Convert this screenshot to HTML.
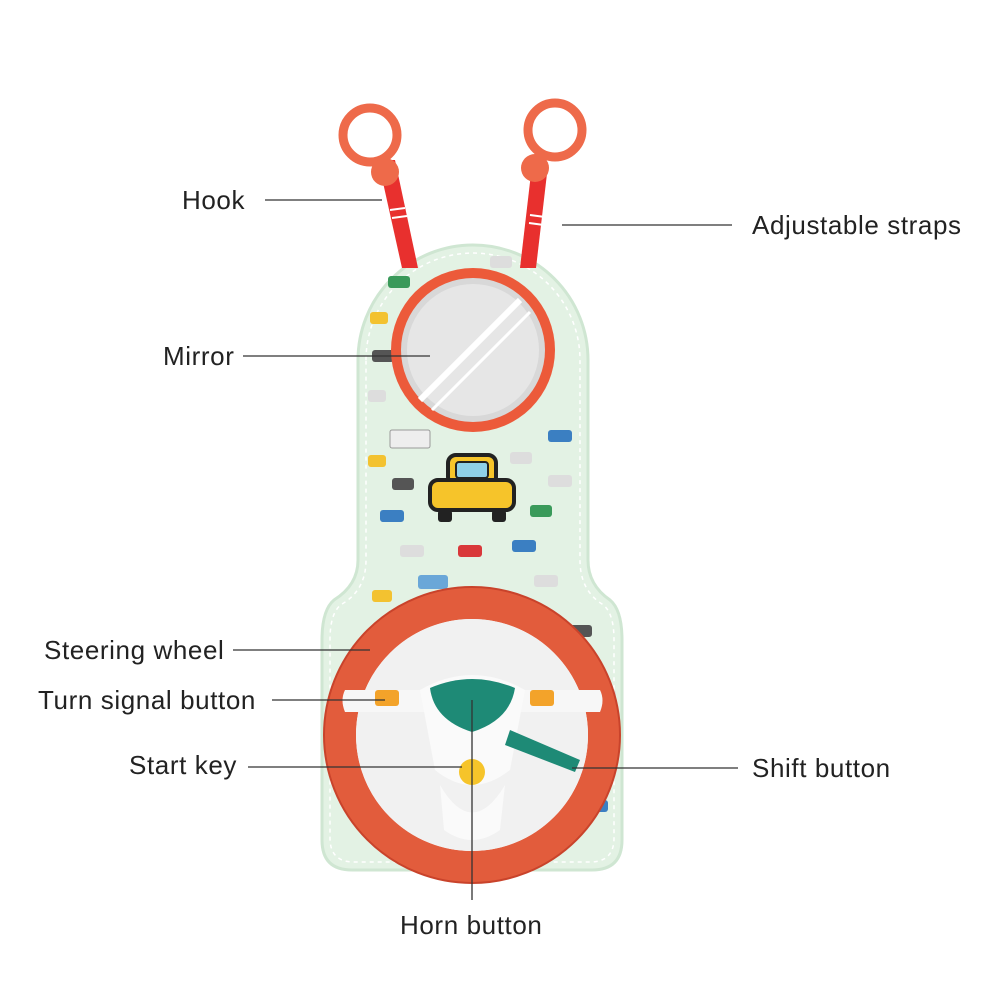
<!DOCTYPE html>
<html><head><meta charset="utf-8"><style>
html,body{margin:0;padding:0;background:#fff;}
svg{display:block}
text{font-family:"Liberation Sans",sans-serif;font-size:26px;letter-spacing:0.6px;fill:#222;}
</style></head><body>
<svg width="1000" height="1000" viewBox="0 0 1000 1000">
<path d="M358,360 A115,115 0 0 1 588,360 L588,560 Q588,585 610,600 Q622,610 622,640 L622,840 Q622,870 592,870 L352,870 Q322,870 322,840 L322,640 Q322,610 334,600 Q358,585 358,560 Z" fill="#e3f2e4" stroke="#cfe6d2" stroke-width="3"/>
<path d="M366,360 A107,107 0 0 1 580,360 L580,560 Q580,590 602,604 Q614,612 614,640 L614,838 Q614,862 590,862 L354,862 Q330,862 330,838 L330,640 Q330,612 342,604 Q366,590 366,560 Z" fill="none" stroke="#fff" stroke-width="1.5" stroke-dasharray="4 4"/>
<g>
<rect x="388" y="276" width="22" height="12" rx="3" fill="#3a9a5a"/>
<rect x="490" y="256" width="22" height="12" rx="3" fill="#ddd"/>
<rect x="370" y="312" width="18" height="12" rx="3" fill="#f3c230"/>
<rect x="372" y="350" width="22" height="12" rx="3" fill="#555"/>
<rect x="368" y="390" width="18" height="12" rx="3" fill="#ddd"/>
<rect x="390" y="430" width="40" height="18" rx="2" fill="#eee" stroke="#999"/>
<rect x="548" y="430" width="24" height="12" rx="3" fill="#3b7fc2"/>
<rect x="510" y="452" width="22" height="12" rx="3" fill="#ddd"/>
<rect x="368" y="455" width="18" height="12" rx="3" fill="#f3c230"/>
<rect x="392" y="478" width="22" height="12" rx="3" fill="#555"/>
<rect x="548" y="475" width="24" height="12" rx="3" fill="#ddd"/>
<rect x="380" y="510" width="24" height="12" rx="3" fill="#3b7fc2"/>
<rect x="530" y="505" width="22" height="12" rx="3" fill="#3a9a5a"/>
<rect x="400" y="545" width="24" height="12" rx="3" fill="#ddd"/>
<rect x="458" y="545" width="24" height="12" rx="3" fill="#d9383a"/>
<rect x="512" y="540" width="24" height="12" rx="3" fill="#3b7fc2"/>
<rect x="418" y="575" width="30" height="14" rx="3" fill="#6aa7d8"/>
<rect x="372" y="590" width="20" height="12" rx="3" fill="#f3c230"/>
<rect x="534" y="575" width="24" height="12" rx="3" fill="#ddd"/>
<rect x="568" y="625" width="24" height="12" rx="3" fill="#555"/>
<rect x="596" y="690" width="20" height="12" rx="3" fill="#ddd"/>
<rect x="340" y="785" width="24" height="12" rx="3" fill="#3a9a5a"/>
<rect x="588" y="800" width="20" height="12" rx="3" fill="#3b7fc2"/>
<rect x="328" y="730" width="18" height="12" rx="3" fill="#d9383a"/>
</g>
<path d="M378,160 L395,160 L418,268 L402,268 Z" fill="#e8302e"/>
<path d="M532,165 L548,165 L536,268 L520,268 Z" fill="#e8302e"/>
<g stroke="#fff" stroke-width="2"><line x1="390" y1="210" x2="405" y2="208"/><line x1="392" y1="218" x2="407" y2="216"/><line x1="530" y1="215" x2="545" y2="217"/><line x1="529" y1="223" x2="544" y2="225"/></g>
<circle cx="370" cy="135" r="27" fill="none" stroke="#ee6a4a" stroke-width="9"/>
<circle cx="555" cy="130" r="27" fill="none" stroke="#ee6a4a" stroke-width="9"/>
<circle cx="385" cy="172" r="14" fill="#ee6a4a"/>
<circle cx="535" cy="168" r="14" fill="#ee6a4a"/>
<circle cx="473" cy="350" r="82" fill="#ec5a3a"/>
<circle cx="473" cy="350" r="72" fill="#d8d8d8"/>
<circle cx="473" cy="350" r="66" fill="#e6e6e6"/>
<line x1="420" y1="400" x2="520" y2="300" stroke="#fff" stroke-width="6"/>
<line x1="432" y1="410" x2="530" y2="312" stroke="#fff" stroke-width="3"/>
<rect x="448" y="455" width="48" height="30" rx="8" fill="#f6c42a" stroke="#222" stroke-width="4"/>
<rect x="430" y="480" width="84" height="30" rx="8" fill="#f6c42a" stroke="#222" stroke-width="4"/>
<rect x="456" y="462" width="32" height="16" rx="3" fill="#8fd0e8" stroke="#222" stroke-width="2"/>
<rect x="438" y="510" width="14" height="12" rx="3" fill="#222"/>
<rect x="492" y="510" width="14" height="12" rx="3" fill="#222"/>
<circle cx="472" cy="735" r="132" fill="#fff" stroke="#e25c3c" stroke-width="32"/>
<circle cx="472" cy="735" r="116" fill="#f1f1f1"/>
<circle cx="472" cy="735" r="148" fill="none" stroke="#c9432b" stroke-width="2"/>
<path d="M345,690 L600,690 Q605,700 600,712 L345,712 Q340,700 345,690Z" fill="#f7f7f7"/>
<path d="M420,690 Q472,660 525,690 L510,770 Q472,800 435,770 Z" fill="#fafafa"/>
<path d="M430,688 Q472,670 515,688 Q510,720 472,732 Q434,720 430,688Z" fill="#1e8a76"/>
<rect x="375" y="690" width="24" height="16" rx="3" fill="#f3a32a"/>
<rect x="530" y="690" width="24" height="16" rx="3" fill="#f3a32a"/>
<path d="M510,730 L580,760 L575,772 L505,745Z" fill="#1e8a76"/>
<path d="M440,785 Q472,840 505,785 L500,830 Q472,850 444,830Z" fill="#fafafa"/>
<circle cx="472" cy="772" r="13" fill="#f6c42a"/>
<g stroke="#333" stroke-width="1.3">
<line x1="265" y1="200" x2="382" y2="200"/>
<line x1="562" y1="225" x2="732" y2="225"/>
<line x1="243" y1="356" x2="430" y2="356"/>
<line x1="233" y1="650" x2="370" y2="650"/>
<line x1="272" y1="700" x2="385" y2="700"/>
<line x1="248" y1="767" x2="462" y2="767"/>
<line x1="572" y1="768" x2="738" y2="768"/>
<line x1="472" y1="700" x2="472" y2="900"/>
</g>
<text x="182" y="209">Hook</text>
<text x="752" y="234">Adjustable straps</text>
<text x="163" y="365">Mirror</text>
<text x="44" y="659">Steering wheel</text>
<text x="38" y="709">Turn signal button</text>
<text x="129" y="774">Start key</text>
<text x="752" y="777">Shift button</text>
<text x="400" y="934">Horn button</text>
</svg>
</body></html>
